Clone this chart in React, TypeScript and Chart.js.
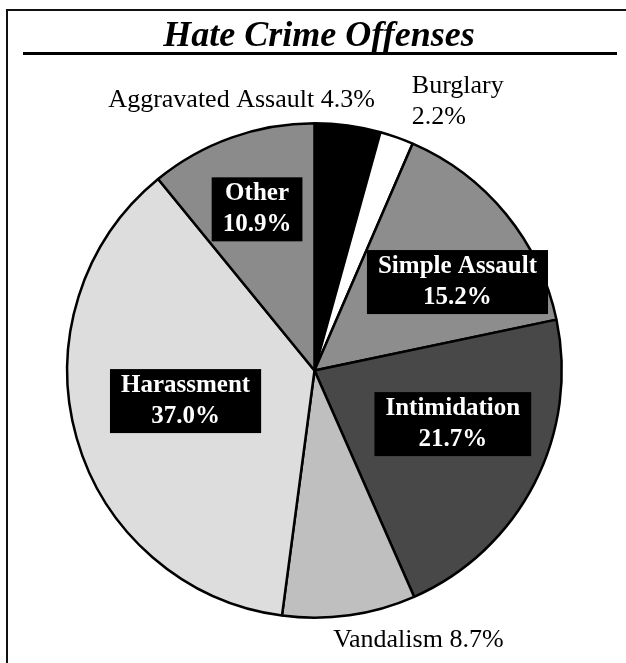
import React, { useEffect, useRef } from 'react';
import { Chart, registerables } from 'chart.js';

Chart.register(...registerables);

const TITLE = 'Hate Crime Offenses';
const categories = ['Aggravated Assault', 'Burglary', 'Simple Assault', 'Intimidation', 'Vandalism', 'Harassment', 'Other'];
const values = [4.3, 2.2, 15.2, 21.7, 8.7, 37.0, 10.9];
const sliceColors = ['#000000', '#ffffff', '#8d8d8d', '#484848', '#bfbfbf', '#dddddd', '#8b8b8b'];

const SERIF = '"Liberation Serif", "Times New Roman", serif';

// label placement: boxed labels inside slices (angle shift in degrees, radius fraction)
const boxedPlacement: Record<number, { da: number; f: number }> = {
  2: { da: 7.5, f: 0.68 },
  3: { da: -6, f: 0.6 },
  5: { da: 2.5, f: 0.536 },
  6: { da: 0, f: 0.692 },
};
// outside labels: offset from the slice's outer mid point
const outsidePlacement: Record<number, { dx: number; dy: number; align: CanvasTextAlign; twoLines: boolean }> = {
  0: { dx: 27, dy: -19, align: 'right', twoLines: false },
  1: { dx: 15, dy: -44, align: 'left', twoLines: true },
  4: { dx: 69, dy: 32, align: 'center', twoLines: false },
};

const pct = (v: number) => v.toFixed(1) + '%';

const decorPlugin = {
  id: 'decor',
  beforeDraw(chart: any) {
    const ctx = chart.ctx as CanvasRenderingContext2D;
    ctx.save();
    ctx.fillStyle = '#ffffff';
    ctx.fillRect(0, 0, chart.width, chart.height);
    // outer frame
    ctx.strokeStyle = '#111';
    ctx.lineWidth = 2;
    ctx.beginPath();
    ctx.moveTo(7, chart.height + 5);
    ctx.lineTo(7, 10);
    ctx.lineTo(chart.width + 5, 10);
    ctx.stroke();
    // title
    ctx.fillStyle = '#000';
    ctx.font = `italic bold 36px ${SERIF}`;
    ctx.textAlign = 'center';
    ctx.textBaseline = 'alphabetic';
    ctx.fillText(TITLE, 319, 46);
    // underline
    ctx.fillRect(23, 52, 594, 3);
    ctx.restore();
  },
  afterDatasetsDraw(chart: any) {
    const ctx = chart.ctx as CanvasRenderingContext2D;
    const meta = chart.getDatasetMeta(0);
    ctx.save();
    meta.data.forEach((arc: any, i: number) => {
      const { x, y, startAngle, endAngle, outerRadius } = arc.getProps(['x', 'y', 'startAngle', 'endAngle', 'outerRadius'], true);
      const mid = (startAngle + endAngle) / 2;
      const name = categories[i];
      const p = pct(values[i]);
      if (boxedPlacement[i]) {
        const pl = boxedPlacement[i];
        const a = mid + (pl.da * Math.PI) / 180;
        const cx = x + Math.cos(a) * outerRadius * pl.f;
        const cy = y + Math.sin(a) * outerRadius * pl.f;
        ctx.font = `bold 25px ${SERIF}`;
        const w = Math.max(ctx.measureText(name).width, ctx.measureText(p).width) + 22;
        const h = 64;
        const top = cy - h / 2;
        ctx.fillStyle = '#000';
        ctx.fillRect(cx - w / 2, top, w, h);
        ctx.fillStyle = '#fff';
        ctx.textAlign = 'center';
        ctx.textBaseline = 'alphabetic';
        ctx.fillText(name, cx, top + 23);
        ctx.fillText(p, cx, top + 54);
      } else if (outsidePlacement[i]) {
        const pl = outsidePlacement[i];
        const ox = x + Math.cos(mid) * outerRadius + pl.dx;
        const oy = y + Math.sin(mid) * outerRadius + pl.dy;
        ctx.font = `26px ${SERIF}`;
        ctx.fillStyle = '#000';
        ctx.textAlign = pl.align;
        ctx.textBaseline = 'alphabetic';
        if (pl.twoLines) {
          ctx.fillText(name, ox, oy);
          ctx.fillText(p, ox, oy + 31);
        } else {
          ctx.fillText(`${name} ${p}`, ox, oy);
        }
      }
    });
    ctx.restore();
  },
};

export default function App() {
  const ref = useRef<HTMLCanvasElement | null>(null);
  useEffect(() => {
    if (!ref.current) return;
    const chart = new Chart(ref.current, {
      type: 'pie',
      data: {
        labels: categories,
        datasets: [
          {
            data: values,
            backgroundColor: sliceColors,
            borderColor: '#000',
            borderWidth: 2.5,
          },
        ],
      },
      options: {
        responsive: false,
        animation: false,
        devicePixelRatio: 1,
        layout: { padding: { left: 66, top: 122, right: 63, bottom: 44 } },
        plugins: {
          legend: { display: false },
          tooltip: { enabled: false },
          title: { display: false },
        },
      },
      plugins: [decorPlugin],
    });
    return () => chart.destroy();
  }, []);
  return (
    <div style={{ position: 'fixed', left: 0, top: 0, width: 626, height: 663, background: '#fff' }}>
      <canvas ref={ref} width={626} height={663} style={{ display: 'block' }} />
    </div>
  );
}
